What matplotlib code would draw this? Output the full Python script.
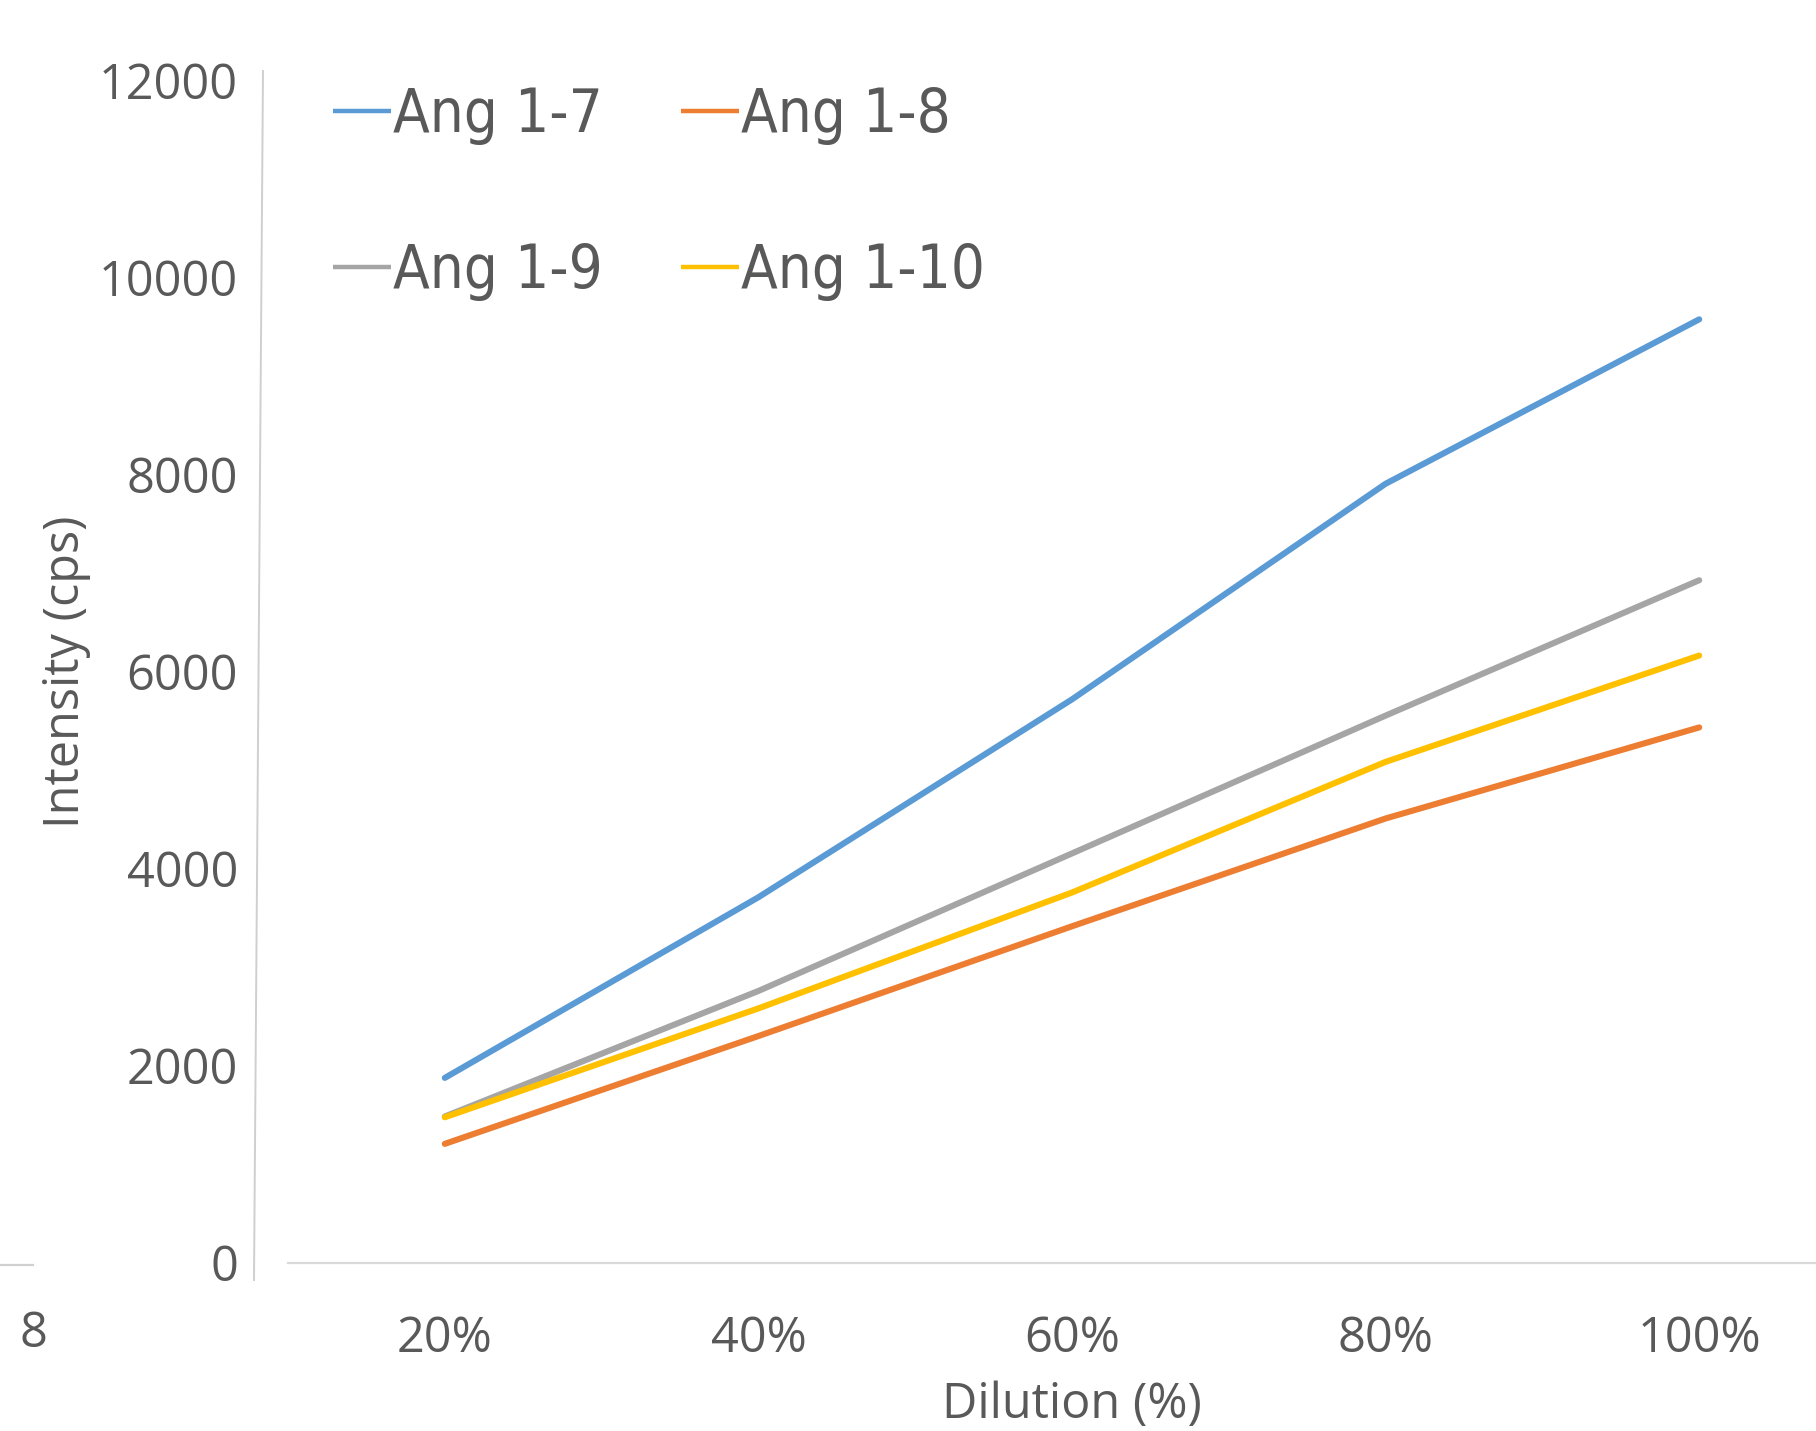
import matplotlib
matplotlib.use("Agg")
import matplotlib.pyplot as plt
from matplotlib.lines import Line2D

# Data
categories = ["20%", "40%", "60%", "80%", "100%"]
ang_1_7 = [1870, 3705, 5715, 7905, 9575]
ang_1_8 = [1200, 2295, 3410, 4505, 5430]
ang_1_9 = [1478, 2753, 4150, 5550, 6925]
ang_1_10 = [1470, 2576, 3753, 5080, 6160]
series_names = ["Ang 1-7", "Ang 1-8", "Ang 1-9", "Ang 1-10"]
y_ticks = [0, 2000, 4000, 6000, 8000, 10000, 12000]

colors = ["#5B9BD5", "#ED7D31", "#A5A5A5", "#FFC000"]
text_color = "#595959"

W, H = 1816, 1431
DPI = 100
fig = plt.figure(figsize=(W / DPI, H / DPI), dpi=DPI)
plt.rcParams["font.family"] = ["Open Sans", "DejaVu Sans"]


def fx(px):
    return px / W


def fy(py):
    return 1 - py / H


# plot area (right side runs past the canvas edge)
left, right = 288, 1856
bottom, top = 1262, 80.6
ax = fig.add_axes([fx(left), fy(bottom), fx(right - left), (bottom - top) / H])

x = [i + 0.5 for i in range(len(categories))]
lines = []
for vals, name, c in zip([ang_1_7, ang_1_8, ang_1_9, ang_1_10], series_names, colors):
    ln, = ax.plot(x, vals, color=c, lw=4.4, solid_capstyle="round", solid_joinstyle="round",
                  label=name, clip_on=False)
    lines.append(ln)

ax.set_xlim(0, len(categories))
ax.set_ylim(0, 12000)
ax.set_xticks(x)
ax.set_xticklabels(categories)
ax.set_yticks(y_ticks)
ax.set_yticklabels([str(v) for v in y_ticks])
ax.tick_params(axis="both", length=0, labelsize=35, colors=text_color)
ax.tick_params(axis="y", pad=36)
ax.tick_params(axis="x", pad=38)
for s in ax.spines.values():
    s.set_visible(False)

ax.set_ylabel("Intensity (cps)", fontsize=35, color=text_color, va="center")
ax.set_xlabel("Dilution (%)", fontsize=35, color=text_color, va="center")
ax.yaxis.set_label_coords((66 - left) / (right - left), 0.5)
ax.xaxis.set_label_coords(0.5, -(1405 - bottom) / (bottom - top))

# axis rules
fig.add_artist(Line2D([fx(263), fx(254)], [fy(71), fy(1280)], color="#cfcfcf", lw=1.4))
fig.add_artist(Line2D([fx(288), fx(W)], [fy(1263), fy(1263)], color="#d9d9d9", lw=1.6))
fig.add_artist(Line2D([fx(0), fx(33)], [fy(1265), fy(1265)], color="#d0d0d0", lw=1.6))
fig.text(fx(33), fy(1334), "8", fontsize=35, color=text_color, ha="center", va="center")

# legend, filled row by row
order = [0, 2, 1, 3]
leg = fig.legend([lines[i] for i in order], [series_names[i] for i in order],
                 ncol=2, loc="upper left",
                 bbox_to_anchor=(fx(333), fy(86)), bbox_transform=fig.transFigure,
                 frameon=False, borderpad=0, borderaxespad=0,
                 handlelength=0.97, handletextpad=0.04, columnspacing=1.3,
                 labelspacing=1.63,
                 prop={"family": ["DejaVu Sans"], "stretch": "condensed", "size": 43})
for t in leg.get_texts():
    t.set_color(text_color)
for l in leg.get_lines():
    l.set_linewidth(3.2)
    l.set_solid_capstyle("butt")

fig.savefig("out.png", dpi=DPI)
